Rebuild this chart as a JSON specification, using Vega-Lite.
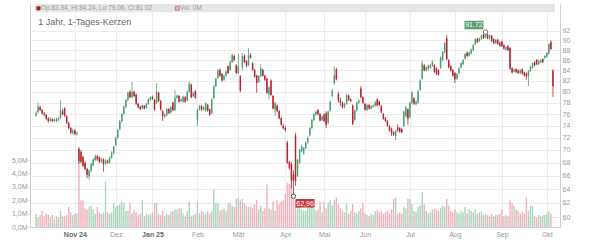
{
"$schema": "https://vega.github.io/schema/vega-lite/v6.json",
"width": 530, "height": 223,
"autosize": {"type": "none"},
"padding": {"left": 30, "top": 4, "right": 40, "bottom": 13},
"background": "white",
"config": {"view": {"stroke": null}, "font": "Liberation Sans"},
"datasets": {
"k": [
{"t":0,"o":75.8,"h":76.5,"l":75.5,"c":76.2,"v":1.0},
{"t":1,"o":76.3,"h":78.0,"l":76.1,"c":77.3,"v":0.7},
{"t":2,"o":77.2,"h":77.5,"l":76.5,"c":76.7,"v":0.9},
{"t":3,"o":76.7,"h":76.9,"l":75.9,"c":76.1,"v":1.2},
{"t":4,"o":76.1,"h":76.4,"l":75.6,"c":75.9,"v":0.8},
{"t":5,"o":75.9,"h":76.0,"l":75.0,"c":75.2,"v":1.0},
{"t":6,"o":75.2,"h":75.5,"l":74.5,"c":74.8,"v":0.9},
{"t":7,"o":74.8,"h":75.5,"l":74.7,"c":75.2,"v":0.7},
{"t":8,"o":75.1,"h":75.3,"l":74.6,"c":74.8,"v":0.9},
{"t":9,"o":74.8,"h":75.3,"l":74.6,"c":75.1,"v":0.6},
{"t":10,"o":75.0,"h":75.3,"l":74.7,"c":74.9,"v":0.8},
{"t":11,"o":74.9,"h":75.5,"l":74.8,"c":75.3,"v":0.7},
{"t":12,"o":75.3,"h":78.4,"l":75.2,"c":76.6,"v":1.2},
{"t":13,"o":76.5,"h":76.9,"l":75.8,"c":76.0,"v":0.8},
{"t":14,"o":77.0,"h":77.2,"l":75.5,"c":75.7,"v":0.8},
{"t":15,"o":75.6,"h":75.8,"l":74.3,"c":74.5,"v":0.9},
{"t":16,"o":74.5,"h":74.7,"l":73.4,"c":73.6,"v":1.5},
{"t":17,"o":73.6,"h":73.8,"l":72.6,"c":72.8,"v":1.1},
{"t":18,"o":72.8,"h":73.5,"l":72.5,"c":73.2,"v":0.9},
{"t":19,"o":73.2,"h":73.4,"l":72.4,"c":72.6,"v":1.0},
{"t":20,"o":72.6,"h":73.0,"l":72.3,"c":72.8,"v":1.0},
{"t":21,"o":70.2,"h":70.5,"l":67.8,"c":68.2,"v":4.9},
{"t":22,"o":69.7,"h":70.0,"l":67.9,"c":68.1,"v":2.0},
{"t":23,"o":68.9,"h":69.1,"l":67.3,"c":67.5,"v":2.0},
{"t":24,"o":68.0,"h":68.2,"l":66.8,"c":67.0,"v":1.4},
{"t":25,"o":67.0,"h":67.2,"l":65.6,"c":66.1,"v":1.3},
{"t":26,"o":65.9,"h":67.0,"l":65.4,"c":66.8,"v":1.5},
{"t":27,"o":66.8,"h":68.0,"l":66.5,"c":67.8,"v":1.6},
{"t":28,"o":67.6,"h":68.7,"l":67.4,"c":68.5,"v":1.3},
{"t":29,"o":68.4,"h":69.3,"l":68.2,"c":69.0,"v":1.0},
{"t":30,"o":69.0,"h":69.2,"l":68.3,"c":68.5,"v":1.5},
{"t":31,"o":68.8,"h":69.0,"l":67.9,"c":68.1,"v":1.1},
{"t":32,"o":68.2,"h":68.8,"l":68.0,"c":68.6,"v":1.0},
{"t":33,"o":68.5,"h":68.7,"l":66.6,"c":67.8,"v":1.1},
{"t":34,"o":67.9,"h":68.5,"l":67.6,"c":68.3,"v":3.4},
{"t":35,"o":68.3,"h":68.5,"l":67.8,"c":68.0,"v":1.1},
{"t":36,"o":68.0,"h":69.0,"l":67.8,"c":68.8,"v":1.0},
{"t":37,"o":68.8,"h":69.8,"l":68.6,"c":69.6,"v":1.1},
{"t":38,"o":69.5,"h":70.7,"l":69.3,"c":70.5,"v":1.8},
{"t":39,"o":70.8,"h":72.2,"l":70.6,"c":72.0,"v":1.5},
{"t":40,"o":72.0,"h":73.5,"l":71.8,"c":73.3,"v":1.6},
{"t":41,"o":73.5,"h":75.0,"l":73.2,"c":74.8,"v":1.7},
{"t":42,"o":74.8,"h":76.2,"l":74.5,"c":76.0,"v":1.9},
{"t":43,"o":76.0,"h":77.5,"l":75.8,"c":77.3,"v":1.8},
{"t":44,"o":77.3,"h":78.7,"l":77.0,"c":78.5,"v":1.2},
{"t":45,"o":78.5,"h":80.0,"l":78.2,"c":79.8,"v":1.2},
{"t":46,"o":80.0,"h":80.3,"l":78.8,"c":79.0,"v":1.8},
{"t":47,"o":79.0,"h":81.8,"l":78.8,"c":80.0,"v":1.0},
{"t":48,"o":80.0,"h":80.2,"l":79.0,"c":79.2,"v":1.3},
{"t":49,"o":79.5,"h":79.7,"l":77.6,"c":77.8,"v":1.1},
{"t":50,"o":77.8,"h":78.0,"l":77.0,"c":77.2,"v":0.9},
{"t":51,"o":77.3,"h":77.5,"l":76.7,"c":76.9,"v":1.0},
{"t":52,"o":77.0,"h":77.7,"l":76.8,"c":77.5,"v":2.0},
{"t":53,"o":77.5,"h":77.6,"l":76.8,"c":77.0,"v":0.8},
{"t":54,"o":77.1,"h":78.0,"l":76.9,"c":77.8,"v":1.0},
{"t":55,"o":77.8,"h":78.8,"l":77.6,"c":78.6,"v":0.9},
{"t":56,"o":78.5,"h":79.2,"l":78.3,"c":79.0,"v":1.0},
{"t":57,"o":79.0,"h":79.3,"l":78.5,"c":78.7,"v":1.1},
{"t":58,"o":78.5,"h":78.7,"l":76.6,"c":76.8,"v":1.8},
{"t":59,"o":78.0,"h":81.6,"l":77.8,"c":80.0,"v":1.8},
{"t":60,"o":79.8,"h":80.0,"l":78.1,"c":78.3,"v":1.0},
{"t":61,"o":78.3,"h":78.5,"l":76.6,"c":76.8,"v":0.9},
{"t":62,"o":76.5,"h":76.7,"l":74.8,"c":75.6,"v":1.2},
{"t":63,"o":75.6,"h":76.1,"l":75.3,"c":75.9,"v":0.8},
{"t":64,"o":75.8,"h":77.1,"l":75.6,"c":76.9,"v":1.0},
{"t":65,"o":76.9,"h":77.1,"l":76.0,"c":76.2,"v":0.9},
{"t":66,"o":76.3,"h":77.4,"l":76.1,"c":77.2,"v":1.1},
{"t":67,"o":78.0,"h":78.2,"l":76.5,"c":76.7,"v":1.2},
{"t":68,"o":76.7,"h":80.3,"l":76.5,"c":78.9,"v":1.3},
{"t":69,"o":78.9,"h":79.5,"l":78.7,"c":79.3,"v":1.3},
{"t":70,"o":79.2,"h":79.4,"l":78.0,"c":78.2,"v":1.4},
{"t":71,"o":78.3,"h":78.8,"l":78.1,"c":78.6,"v":1.4},
{"t":72,"o":78.2,"h":79.3,"l":78.0,"c":79.1,"v":1.0},
{"t":73,"o":79.0,"h":79.2,"l":78.0,"c":78.2,"v":0.8},
{"t":74,"o":78.4,"h":80.2,"l":78.2,"c":80.0,"v":1.2},
{"t":75,"o":80.0,"h":81.9,"l":79.8,"c":81.5,"v":1.9},
{"t":76,"o":81.3,"h":81.5,"l":78.8,"c":79.0,"v":0.8},
{"t":77,"o":79.2,"h":80.0,"l":79.0,"c":79.8,"v":0.9},
{"t":78,"o":80.1,"h":80.3,"l":78.7,"c":78.9,"v":1.0},
{"t":79,"o":75.0,"h":77.0,"l":74.0,"c":76.7,"v":1.9},
{"t":80,"o":76.8,"h":77.6,"l":76.6,"c":77.4,"v":1.0},
{"t":81,"o":77.4,"h":77.6,"l":76.6,"c":76.8,"v":1.2},
{"t":82,"o":76.8,"h":77.4,"l":76.6,"c":77.2,"v":1.1},
{"t":83,"o":76.6,"h":78.1,"l":76.4,"c":77.9,"v":1.0},
{"t":84,"o":77.6,"h":77.8,"l":76.4,"c":76.6,"v":1.2},
{"t":85,"o":76.8,"h":77.0,"l":75.7,"c":75.9,"v":1.0},
{"t":86,"o":76.2,"h":78.8,"l":76.0,"c":78.6,"v":1.2},
{"t":87,"o":78.8,"h":81.2,"l":78.6,"c":81.0,"v":2.8},
{"t":88,"o":81.0,"h":82.6,"l":80.8,"c":82.4,"v":1.8},
{"t":89,"o":82.6,"h":84.3,"l":82.4,"c":84.0,"v":1.8},
{"t":90,"o":84.1,"h":84.4,"l":82.8,"c":83.0,"v":1.2},
{"t":91,"o":83.3,"h":83.5,"l":81.9,"c":82.1,"v":1.3},
{"t":92,"o":82.2,"h":83.2,"l":82.0,"c":83.0,"v":1.4},
{"t":93,"o":83.0,"h":84.0,"l":82.8,"c":83.8,"v":1.2},
{"t":94,"o":84.8,"h":85.0,"l":83.3,"c":83.5,"v":1.8},
{"t":95,"o":84.1,"h":85.9,"l":83.9,"c":85.7,"v":1.8},
{"t":96,"o":85.6,"h":87.3,"l":85.4,"c":87.0,"v":1.6},
{"t":97,"o":86.8,"h":87.1,"l":85.8,"c":86.0,"v":1.5},
{"t":98,"o":85.0,"h":85.2,"l":83.3,"c":83.5,"v":2.1},
{"t":99,"o":83.5,"h":87.3,"l":83.3,"c":84.8,"v":2.2},
{"t":100,"o":82.9,"h":83.1,"l":79.9,"c":80.2,"v":2.0},
{"t":101,"o":84.6,"h":87.4,"l":84.0,"c":86.8,"v":2.1},
{"t":102,"o":86.9,"h":87.1,"l":85.4,"c":85.6,"v":1.8},
{"t":103,"o":85.8,"h":86.0,"l":84.6,"c":84.8,"v":1.6},
{"t":104,"o":85.0,"h":88.4,"l":84.8,"c":87.0,"v":1.5},
{"t":105,"o":87.0,"h":87.4,"l":86.3,"c":86.5,"v":1.5},
{"t":106,"o":85.4,"h":85.6,"l":83.9,"c":84.1,"v":1.4},
{"t":107,"o":84.1,"h":84.3,"l":82.6,"c":82.8,"v":1.7},
{"t":108,"o":83.0,"h":83.2,"l":79.8,"c":81.6,"v":2.0},
{"t":109,"o":81.8,"h":83.1,"l":81.6,"c":82.9,"v":1.3},
{"t":110,"o":82.9,"h":85.2,"l":82.7,"c":84.4,"v":1.6},
{"t":111,"o":84.1,"h":84.3,"l":82.8,"c":83.0,"v":1.2},
{"t":112,"o":83.0,"h":83.2,"l":82.0,"c":82.2,"v":1.4},
{"t":113,"o":82.4,"h":82.6,"l":79.6,"c":79.8,"v":3.2},
{"t":114,"o":79.5,"h":81.0,"l":78.6,"c":80.8,"v":1.4},
{"t":115,"o":82.1,"h":82.3,"l":79.2,"c":79.4,"v":1.3},
{"t":116,"o":79.2,"h":79.4,"l":76.8,"c":77.0,"v":1.9},
{"t":117,"o":76.8,"h":78.2,"l":75.7,"c":77.9,"v":1.2},
{"t":118,"o":77.5,"h":77.7,"l":76.3,"c":76.5,"v":2.0},
{"t":119,"o":76.5,"h":76.7,"l":75.1,"c":75.3,"v":1.7},
{"t":120,"o":75.3,"h":75.5,"l":74.0,"c":74.2,"v":1.9},
{"t":121,"o":74.0,"h":74.3,"l":73.4,"c":73.6,"v":2.0},
{"t":122,"o":73.6,"h":73.9,"l":73.0,"c":73.3,"v":2.5},
{"t":123,"o":71.2,"h":71.5,"l":67.8,"c":68.0,"v":3.3},
{"t":124,"o":68.1,"h":68.3,"l":66.9,"c":67.2,"v":3.2},
{"t":125,"o":67.8,"h":68.1,"l":64.1,"c":65.2,"v":3.3},
{"t":126,"o":66.2,"h":66.8,"l":62.96,"c":65.3,"v":2.5},
{"t":127,"o":72.4,"h":72.8,"l":64.5,"c":65.2,"v":2.0},
{"t":128,"o":66.0,"h":68.6,"l":65.8,"c":68.4,"v":2.0},
{"t":129,"o":68.0,"h":70.2,"l":67.8,"c":70.0,"v":1.5},
{"t":130,"o":69.8,"h":70.9,"l":69.6,"c":70.6,"v":1.3},
{"t":131,"o":69.5,"h":70.5,"l":69.2,"c":70.3,"v":1.2},
{"t":132,"o":70.3,"h":71.4,"l":70.1,"c":71.2,"v":1.2},
{"t":133,"o":71.2,"h":72.2,"l":71.0,"c":72.0,"v":1.4},
{"t":134,"o":72.4,"h":73.8,"l":72.2,"c":73.6,"v":1.7},
{"t":135,"o":73.6,"h":75.2,"l":73.4,"c":75.0,"v":1.5},
{"t":136,"o":75.0,"h":76.2,"l":74.8,"c":76.0,"v":1.4},
{"t":137,"o":75.9,"h":76.6,"l":75.7,"c":76.4,"v":1.2},
{"t":138,"o":76.7,"h":76.9,"l":75.8,"c":76.0,"v":1.3},
{"t":139,"o":76.0,"h":76.2,"l":74.7,"c":74.9,"v":1.9},
{"t":140,"o":75.0,"h":75.8,"l":74.8,"c":75.6,"v":1.1},
{"t":141,"o":75.9,"h":76.1,"l":74.6,"c":74.8,"v":1.9},
{"t":142,"o":76.2,"h":76.5,"l":73.6,"c":74.1,"v":1.4},
{"t":143,"o":74.5,"h":76.6,"l":74.3,"c":76.4,"v":1.8},
{"t":144,"o":76.6,"h":78.4,"l":76.4,"c":78.2,"v":2.0},
{"t":145,"o":79.2,"h":80.5,"l":79.0,"c":80.2,"v":1.6},
{"t":146,"o":81.5,"h":84.8,"l":81.3,"c":83.1,"v":2.0},
{"t":147,"o":84.2,"h":84.5,"l":82.1,"c":82.3,"v":2.2},
{"t":148,"o":79.6,"h":80.0,"l":78.0,"c":78.4,"v":1.7},
{"t":149,"o":78.4,"h":78.9,"l":77.4,"c":78.0,"v":1.4},
{"t":150,"o":78.0,"h":78.2,"l":77.0,"c":77.2,"v":1.2},
{"t":151,"o":77.2,"h":78.0,"l":77.0,"c":77.8,"v":1.1},
{"t":152,"o":77.8,"h":79.6,"l":77.6,"c":79.3,"v":1.75},
{"t":153,"o":79.3,"h":79.5,"l":78.3,"c":78.5,"v":1.0},
{"t":154,"o":78.6,"h":78.8,"l":78.1,"c":78.3,"v":1.2},
{"t":155,"o":77.5,"h":77.7,"l":74.1,"c":74.3,"v":1.7},
{"t":156,"o":75.0,"h":76.8,"l":74.8,"c":76.6,"v":1.1},
{"t":157,"o":76.6,"h":78.2,"l":76.4,"c":78.0,"v":1.0},
{"t":158,"o":78.0,"h":78.6,"l":77.8,"c":78.4,"v":1.2},
{"t":159,"o":80.6,"h":81.0,"l":78.8,"c":79.0,"v":1.4},
{"t":160,"o":79.0,"h":79.2,"l":77.8,"c":78.0,"v":1.8},
{"t":161,"o":77.8,"h":78.0,"l":76.6,"c":76.8,"v":1.0},
{"t":162,"o":76.7,"h":77.8,"l":76.5,"c":77.6,"v":0.9},
{"t":163,"o":77.6,"h":77.8,"l":76.8,"c":77.0,"v":0.8},
{"t":164,"o":77.0,"h":77.6,"l":76.8,"c":77.4,"v":1.0},
{"t":165,"o":77.3,"h":77.7,"l":77.1,"c":77.5,"v":0.9},
{"t":166,"o":77.5,"h":78.3,"l":77.3,"c":78.1,"v":1.2},
{"t":167,"o":78.6,"h":78.8,"l":77.3,"c":77.5,"v":1.3},
{"t":168,"o":78.2,"h":78.4,"l":77.4,"c":77.6,"v":1.1},
{"t":169,"o":77.4,"h":77.6,"l":76.1,"c":76.3,"v":1.2},
{"t":170,"o":76.0,"h":76.2,"l":75.0,"c":75.2,"v":1.0},
{"t":171,"o":75.3,"h":75.5,"l":74.6,"c":74.8,"v":1.1},
{"t":172,"o":74.8,"h":75.0,"l":73.8,"c":74.0,"v":1.2},
{"t":173,"o":73.9,"h":74.1,"l":73.0,"c":73.2,"v":1.0},
{"t":174,"o":73.5,"h":73.7,"l":72.3,"c":72.8,"v":1.3},
{"t":175,"o":72.9,"h":73.1,"l":72.3,"c":72.5,"v":2.1},
{"t":176,"o":72.3,"h":73.3,"l":71.6,"c":73.1,"v":2.2},
{"t":177,"o":73.7,"h":74.2,"l":73.0,"c":73.2,"v":1.0},
{"t":178,"o":73.6,"h":73.8,"l":72.8,"c":73.0,"v":1.1},
{"t":179,"o":73.4,"h":73.6,"l":72.7,"c":72.9,"v":1.0},
{"t":180,"o":74.0,"h":76.6,"l":73.8,"c":76.4,"v":1.5},
{"t":181,"o":75.6,"h":77.5,"l":75.4,"c":77.2,"v":1.4},
{"t":182,"o":76.8,"h":77.0,"l":74.2,"c":75.2,"v":2.1},
{"t":183,"o":75.5,"h":78.2,"l":75.3,"c":78.0,"v":2.1},
{"t":184,"o":78.0,"h":80.1,"l":77.8,"c":79.8,"v":1.7},
{"t":185,"o":78.8,"h":79.0,"l":77.6,"c":77.8,"v":1.2},
{"t":186,"o":77.8,"h":78.4,"l":77.5,"c":78.2,"v":1.1},
{"t":187,"o":78.0,"h":80.3,"l":77.8,"c":80.1,"v":1.5},
{"t":188,"o":80.3,"h":82.3,"l":80.1,"c":82.1,"v":1.6},
{"t":189,"o":82.4,"h":86.0,"l":82.2,"c":85.4,"v":2.6},
{"t":190,"o":85.0,"h":85.2,"l":83.8,"c":84.0,"v":1.7},
{"t":191,"o":84.0,"h":84.8,"l":83.8,"c":84.6,"v":1.2},
{"t":192,"o":84.2,"h":85.1,"l":84.0,"c":84.9,"v":1.0},
{"t":193,"o":84.5,"h":85.2,"l":84.3,"c":85.0,"v":1.1},
{"t":194,"o":84.9,"h":86.0,"l":84.7,"c":85.6,"v":1.3},
{"t":195,"o":85.0,"h":85.2,"l":83.5,"c":83.7,"v":1.4},
{"t":196,"o":84.4,"h":84.6,"l":83.1,"c":83.3,"v":1.3},
{"t":197,"o":84.0,"h":84.2,"l":83.0,"c":83.2,"v":1.2},
{"t":198,"o":84.5,"h":86.7,"l":84.3,"c":86.5,"v":1.4},
{"t":199,"o":86.0,"h":87.8,"l":85.8,"c":87.6,"v":1.6},
{"t":200,"o":87.5,"h":89.6,"l":87.3,"c":89.4,"v":1.5},
{"t":201,"o":90.4,"h":91.1,"l":86.0,"c":86.2,"v":2.1},
{"t":202,"o":86.0,"h":86.2,"l":84.4,"c":84.6,"v":1.6},
{"t":203,"o":84.8,"h":85.0,"l":83.8,"c":84.0,"v":1.2},
{"t":204,"o":84.1,"h":84.3,"l":82.8,"c":83.0,"v":1.1},
{"t":205,"o":83.5,"h":83.7,"l":81.6,"c":82.3,"v":1.3},
{"t":206,"o":82.4,"h":83.5,"l":82.2,"c":83.3,"v":1.1},
{"t":207,"o":83.5,"h":84.6,"l":83.3,"c":84.4,"v":1.0},
{"t":208,"o":84.6,"h":85.6,"l":84.4,"c":85.4,"v":1.2},
{"t":209,"o":85.2,"h":86.2,"l":85.0,"c":86.0,"v":1.1},
{"t":210,"o":86.3,"h":87.4,"l":86.1,"c":87.2,"v":1.5},
{"t":211,"o":87.5,"h":87.7,"l":86.6,"c":86.8,"v":1.0},
{"t":212,"o":86.9,"h":87.7,"l":86.7,"c":87.5,"v":1.3},
{"t":213,"o":87.3,"h":88.3,"l":87.1,"c":88.1,"v":1.2},
{"t":214,"o":88.0,"h":89.2,"l":87.8,"c":89.0,"v":1.1},
{"t":215,"o":89.2,"h":90.4,"l":89.0,"c":90.2,"v":1.3},
{"t":216,"o":90.3,"h":90.5,"l":89.4,"c":89.6,"v":1.0},
{"t":217,"o":89.8,"h":90.6,"l":89.6,"c":90.4,"v":1.1},
{"t":218,"o":90.3,"h":91.2,"l":90.1,"c":91.0,"v":1.2},
{"t":219,"o":91.2,"h":91.4,"l":90.3,"c":90.5,"v":0.9},
{"t":220,"o":90.6,"h":91.72,"l":90.4,"c":91.3,"v":1.0},
{"t":221,"o":91.2,"h":91.4,"l":90.2,"c":90.4,"v":0.9},
{"t":222,"o":90.4,"h":91.2,"l":90.2,"c":91.0,"v":0.8},
{"t":223,"o":90.9,"h":91.1,"l":89.6,"c":89.8,"v":1.0},
{"t":224,"o":90.2,"h":90.4,"l":89.2,"c":89.4,"v":0.8},
{"t":225,"o":89.4,"h":90.3,"l":89.2,"c":90.1,"v":0.9},
{"t":226,"o":90.1,"h":90.3,"l":89.1,"c":89.3,"v":0.9},
{"t":227,"o":89.5,"h":89.7,"l":88.7,"c":88.9,"v":1.0},
{"t":228,"o":89.7,"h":89.9,"l":88.6,"c":88.8,"v":1.3},
{"t":229,"o":89.0,"h":89.2,"l":88.1,"c":88.3,"v":0.8},
{"t":230,"o":88.1,"h":88.8,"l":87.9,"c":88.6,"v":0.9},
{"t":231,"o":88.8,"h":89.0,"l":87.8,"c":88.0,"v":0.8},
{"t":232,"o":88.4,"h":88.6,"l":84.1,"c":84.3,"v":2.0},
{"t":233,"o":84.4,"h":84.6,"l":83.4,"c":83.6,"v":1.8},
{"t":234,"o":83.8,"h":84.4,"l":83.6,"c":84.2,"v":1.6},
{"t":235,"o":84.2,"h":84.4,"l":83.5,"c":83.7,"v":1.3},
{"t":236,"o":84.0,"h":84.2,"l":83.3,"c":83.5,"v":1.2},
{"t":237,"o":83.5,"h":84.2,"l":83.3,"c":84.0,"v":1.0},
{"t":238,"o":84.2,"h":84.4,"l":83.2,"c":83.4,"v":1.1},
{"t":239,"o":83.6,"h":83.8,"l":82.8,"c":83.0,"v":1.0},
{"t":240,"o":83.4,"h":83.6,"l":82.2,"c":82.9,"v":2.2},
{"t":241,"o":82.9,"h":84.1,"l":81.0,"c":83.9,"v":1.2},
{"t":242,"o":83.9,"h":84.9,"l":83.7,"c":84.7,"v":1.6},
{"t":243,"o":84.5,"h":85.6,"l":84.3,"c":85.4,"v":1.6},
{"t":244,"o":85.6,"h":85.8,"l":84.8,"c":85.0,"v":0.8},
{"t":245,"o":86.0,"h":86.2,"l":85.0,"c":85.2,"v":0.7},
{"t":246,"o":85.2,"h":86.1,"l":85.0,"c":85.9,"v":0.9},
{"t":247,"o":85.6,"h":86.2,"l":85.4,"c":86.0,"v":0.8},
{"t":248,"o":86.2,"h":86.4,"l":85.4,"c":85.6,"v":0.9},
{"t":249,"o":86.4,"h":87.0,"l":86.2,"c":86.8,"v":0.9},
{"t":250,"o":86.7,"h":87.6,"l":86.5,"c":87.4,"v":1.0},
{"t":251,"o":87.3,"h":89.4,"l":87.1,"c":89.2,"v":1.2},
{"t":252,"o":89.6,"h":90.0,"l":88.0,"c":88.2,"v":1.0},
{"t":253,"o":83.94,"h":84.24,"l":79.06,"c":81.02,"v":0}
],
"hi": [{"t":220,"p":91.72,"label":"91.72"}],
"lo": [{"t":126,"p":62.96,"label":"62,96"}]
},
"data": {"name": "k"},
"layer": [
{
"mark": {"type": "bar", "width": 1.4},
"encoding": {
"x": {"field": "t", "type": "quantitative", "title": null,
"scale": {"domain": [-0.5, 254], "nice": false, "zero": false},
"axis": {"values": [19,39,57,79,99,122,141,161,183,205,228,250],
"labelExpr": "['Nov 24','Dez','Jan 25','Feb','Mär','Apr','Mai','Jun','Jul','Aug','Sep','Okt'][indexof([19,39,57,79,99,122,141,161,183,205,228,250], datum.value)]",
"grid": true, "gridColor": "#ececec", "ticks": false, "domainColor": "#d0d0d0",
"labelFontSize": 7, "labelPadding": 3, "labelFont": "Liberation Sans",
"labelColor": {"condition": {"test": "datum.value == 19 || datum.value == 57", "value": "#666666"}, "value": "#9a9a9a"},
"labelFontWeight": {"condition": {"test": "datum.value == 19 || datum.value == 57", "value": "bold"}, "value": "normal"}}},
"y": {"field": "v", "type": "quantitative", "title": null,
"scale": {"domain": [0, 16.67], "nice": false, "zero": true},
"axis": {"orient": "left", "values": [0,1,2,3,4,5], "grid": false,
"labelExpr": "replace(format(datum.value, '.1f'), '.', ',') + 'M'",
"labelFontSize": 7, "labelColor": "#9a9a9a", "tickSize": 2, "tickColor": "#d0d0d0",
"labelPadding": 1, "domainColor": "#d0d0d0"}},
"color": {"condition": {"test": "datum.c >= datum.o", "value": "#a9d6bc"}, "value": "#f2b1bb"}
}
},
{
"layer": [
{
"mark": {"type": "rule", "strokeWidth": 0.8},
"encoding": {
"x": {"field": "t", "type": "quantitative", "title": null},
"y": {"field": "l", "type": "quantitative", "title": null,
"scale": {"type": "log", "domain": [58.68, 97.8], "nice": false, "zero": false},
"axis": {"orient": "right", "values": [60,62,64,66,68,70,72,74,76,78,80,82,84,86,88,90,92],
"grid": true, "gridColor": "#ececec", "ticks": false, "labelPadding": 2,
"labelFontSize": 7, "labelColor": "#9a9a9a", "domainColor": "#d0d0d0"}},
"y2": {"field": "h"},
"color": {"condition": {"test": "datum.c >= datum.o", "value": "#4f9f74"}, "value": "#b3262e"}
}
},
{
"mark": {"type": "bar", "width": 1.5},
"encoding": {
"x": {"field": "t", "type": "quantitative", "title": null},
"y": {"field": "o", "type": "quantitative", "title": null},
"y2": {"field": "c"},
"color": {"condition": {"test": "datum.c >= datum.o", "value": "#4f9f74"}, "value": "#b3262e"}
}
},
{
"data": {"values": [{}]},
"mark": {"type": "rect", "fill": "#e6e6e6"},
"encoding": {
"x": {"datum": -0.5, "type": "quantitative"},
"x2": {"datum": 254},
"y": {"datum": 97.8, "type": "quantitative"},
"y2": {"datum": 95.96}
}
},
{
"data": {"values": [{}]},
"mark": {"type": "point", "shape": "square", "filled": true, "size": 16, "color": "#a11c1c", "opacity": 1},
"encoding": {
"x": {"datum": 1.2, "type": "quantitative"},
"y": {"datum": 96.84, "type": "quantitative"}
}
},
{
"data": {"values": [{}]},
"mark": {"type": "point", "shape": "square", "filled": true, "size": 16, "fill": "#efb6be", "stroke": "#c7707e", "strokeWidth": 0.8, "opacity": 1},
"encoding": {
"x": {"datum": 69.1, "type": "quantitative"},
"y": {"datum": 96.84, "type": "quantitative"}
}
},
{
"data": {"values": [{"label": "Op:83.94, Hi:84.24, Lo:79.06, Cl:81.02"}]},
"mark": {"type": "text", "align": "left", "baseline": "middle", "fontSize": 6.5, "color": "#9a9a9a"},
"encoding": {
"x": {"datum": 2.4, "type": "quantitative"},
"y": {"datum": 96.84, "type": "quantitative"},
"text": {"field": "label"}
}
},
{
"data": {"values": [{"label": "Vol: 0M"}]},
"mark": {"type": "text", "align": "left", "baseline": "middle", "fontSize": 6.5, "color": "#9a9a9a"},
"encoding": {
"x": {"datum": 70.4, "type": "quantitative"},
"y": {"datum": 96.84, "type": "quantitative"},
"text": {"field": "label"}
}
},
{
"data": {"values": [{"label": "1 Jahr, 1-Tages-Kerzen"}]},
"mark": {"type": "text", "align": "left", "baseline": "alphabetic", "fontSize": 9, "color": "#666666"},
"encoding": {
"x": {"datum": 1.1, "type": "quantitative"},
"y": {"datum": 93.27, "type": "quantitative"},
"text": {"field": "label"}
}
},
{
"data": {"name": "hi"},
"mark": {"type": "point", "shape": "M-2.221,-1.187H-0.221V-0.287H-2.221Z", "size": 361, "filled": true, "fill": "#5a9e72", "strokeWidth": 0, "opacity": 1},
"encoding": {"x": {"field": "t", "type": "quantitative"}, "y": {"field": "p", "type": "quantitative"}}
},
{
"data": {"name": "hi"},
"mark": {"type": "text", "dx": -11.6, "dy": -7, "align": "center", "baseline": "middle", "fontSize": 7, "color": "white"},
"encoding": {"x": {"field": "t", "type": "quantitative"}, "y": {"field": "p", "type": "quantitative"}, "text": {"field": "label"}}
},
{
"data": {"name": "hi"},
"mark": {"type": "point", "shape": "circle", "size": 20, "filled": true, "fill": "white", "stroke": "#777777", "strokeWidth": 1, "opacity": 1},
"encoding": {"x": {"field": "t", "type": "quantitative"}, "y": {"field": "p", "type": "quantitative"}}
},
{
"data": {"name": "lo"},
"mark": {"type": "point", "shape": "M0.221,0.287H2.221V1.187H0.221Z", "size": 361, "filled": true, "fill": "#c0393f", "strokeWidth": 0, "opacity": 1},
"encoding": {"x": {"field": "t", "type": "quantitative"}, "y": {"field": "p", "type": "quantitative"}}
},
{
"data": {"name": "lo"},
"mark": {"type": "text", "dx": 11.6, "dy": 7.6, "align": "center", "baseline": "middle", "fontSize": 7, "color": "white"},
"encoding": {"x": {"field": "t", "type": "quantitative"}, "y": {"field": "p", "type": "quantitative"}, "text": {"field": "label"}}
},
{
"data": {"name": "lo"},
"mark": {"type": "point", "shape": "circle", "size": 20, "filled": true, "fill": "white", "stroke": "#555555", "strokeWidth": 1, "opacity": 1},
"encoding": {"x": {"field": "t", "type": "quantitative"}, "y": {"field": "p", "type": "quantitative"}}
}
]
}
],
"resolve": {"scale": {"y": "independent"}}
}
